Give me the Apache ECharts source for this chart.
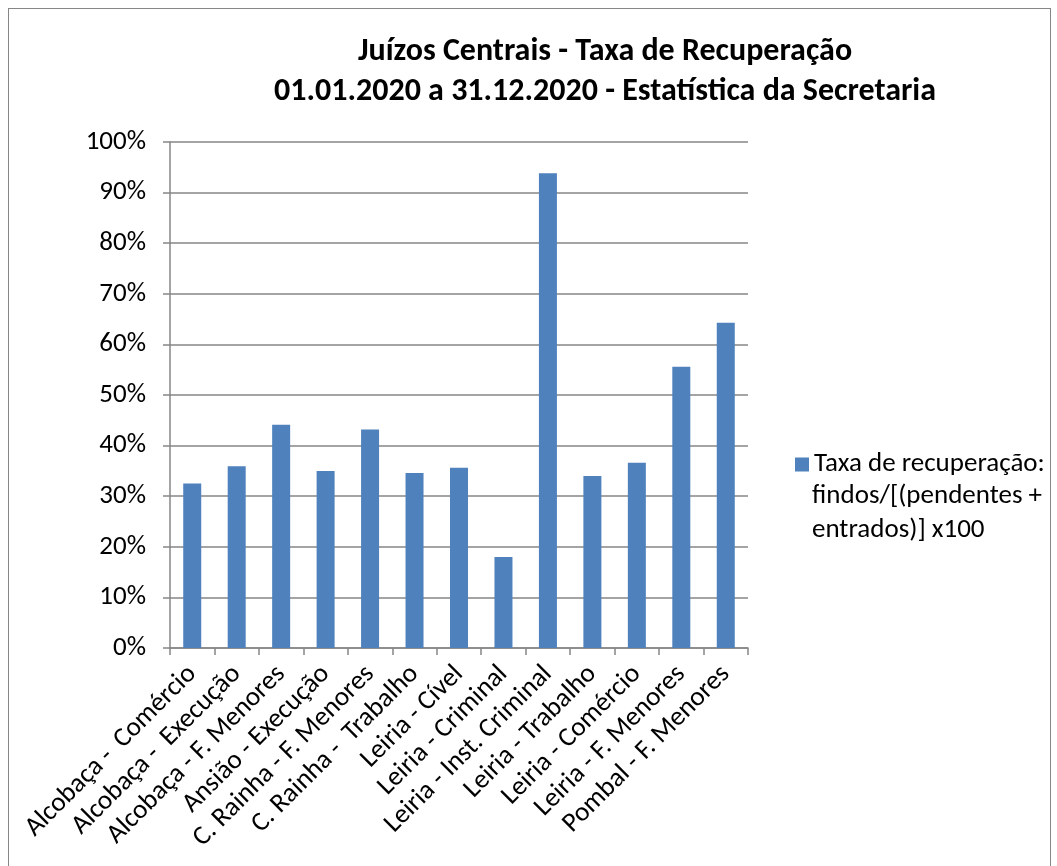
<!DOCTYPE html>
<html>
<head>
<meta charset="utf-8">
<script src="https://cdn.jsdelivr.net/npm/echarts@6/dist/echarts.min.js"></script>
<style>
  html, body { margin: 0; padding: 0; background: #fff; }
  #chart { position: absolute; left: 0; top: 0; width: 1057px; height: 866px; }
  #frame { position: absolute; left: 8px; top: 8px; width: 1041px; height: 880px; border: 1px solid #868686; pointer-events: none; }
</style>
</head>
<body>
<div id="chart"></div>
<div id="frame"></div>
<script>
// categorias (tribunais)
var categories = [
    'Alcobaça -  Comércio',
    'Alcobaça -  Execução',
    'Alcobaça - F. Menores',
    'Ansião - Execução',
    'C. Rainha - F. Menores',
    'C. Rainha -  Trabalho',
    'Leiria - Cível',
    'Leiria - Criminal',
    'Leiria - Inst. Criminal',
    'Leiria - Trabalho',
    'Leiria - Comércio',
    'Leiria - F. Menores',
    'Pombal - F. Menores'
];
// taxa de recuperação (%)
var taxaValues = [32.5, 35.9, 44.1, 35.0, 43.2, 34.6, 35.6, 18.0, 93.8, 34.0, 36.6, 55.6, 64.3];
var yTicks = [0, 10, 20, 30, 40, 50, 60, 70, 80, 90, 100];
// nome da série: primeira linha na legenda, resto por baixo
var seriesName = 'Taxa de recuperação:';
var seriesNameRest = 'findos/[(pendentes +\nentrados)] x100';

var font = 'Carlito, "Liberation Sans", sans-serif';
var myChart = echarts.init(document.getElementById('chart'));

var option = {
    animation: false,
    title: {
        text: 'Juízos Centrais - Taxa de Recuperação\n01.01.2020 a 31.12.2020 - Estatística da Secretaria',
        left: 600,
        top: 27,
        textAlign: 'center',
        textStyle: {
            fontFamily: font,
            fontSize: 32,
            fontWeight: 'bold',
            color: '#000',
            lineHeight: 40
        }
    },
    legend: {
        left: 790,
        top: 446,
        itemWidth: 14,
        itemHeight: 14,
        itemGap: 6,
        icon: 'rect',
        textStyle: {
            fontFamily: font,
            fontSize: 27,
            color: '#000'
        },
        data: [seriesName]
    },
    graphic: [{
        type: 'text',
        left: 812,
        top: 479,
        style: {
            text: seriesNameRest,
            fontFamily: font,
            fontSize: 27,
            lineHeight: 34,
            fill: '#000'
        }
    }],
    grid: {
        left: 170,
        right: 309,
        top: 142,
        bottom: 218,
        containLabel: false
    },
    xAxis: {
        type: 'category',
        data: categories,
        axisLine: { lineStyle: { color: '#868686', width: 1.5 } },
        axisTick: { show: true, alignWithLabel: false, length: 7, lineStyle: { color: '#868686', width: 1.5 } },
        axisLabel: {
            interval: 0,
            rotate: 45,
            margin: 22,
            fontFamily: font,
            fontSize: 27,
            color: '#000'
        }
    },
    yAxis: {
        type: 'value',
        min: 0,
        max: 100,
        interval: 10,
        axisLine: { show: true, lineStyle: { color: '#868686', width: 1.5 } },
        axisTick: { show: true, length: 7, lineStyle: { color: '#868686', width: 1.5 } },
        splitLine: { lineStyle: { color: '#868686', width: 1.5 } },
        axisLabel: {
            margin: 24,
            fontFamily: font,
            fontSize: 27,
            color: '#000',
            formatter: function (v) { return yTicks.indexOf(v) >= 0 ? v + '%' : ''; }
        }
    },
    series: [{
        name: seriesName,
        type: 'bar',
        data: taxaValues,
        barWidth: 18,
        itemStyle: { color: '#4F81BD' }
    }]
};
myChart.setOption(option);
</script>
</body>
</html>
